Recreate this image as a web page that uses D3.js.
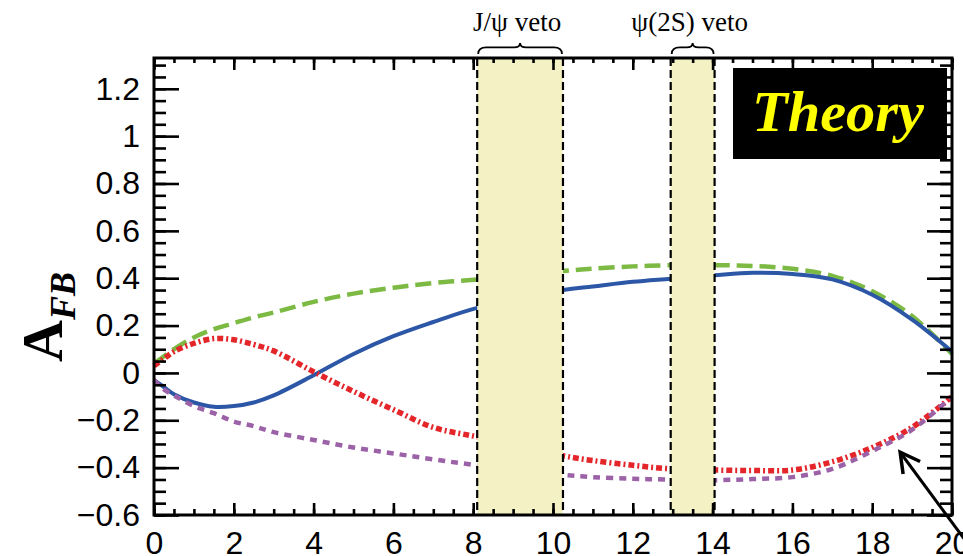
<!DOCTYPE html>
<html>
<head>
<meta charset="utf-8">
<script src="https://cdn.jsdelivr.net/npm/d3@7"></script>
<style>
  body { margin: 0; background: #fff; }
</style>
</head>
<body>
<svg id="chart" width="963" height="556"></svg>
<script>
// q^2 sample points (GeV^2)
var q2 = [0, 0.25, 0.5, 1, 1.5, 2, 2.5, 3, 4, 5, 6, 7, 8.1, 10.25, 11, 12, 12.95, 14.05, 15, 16, 17, 18, 19, 20];

// A_FB predictions
var afbBlue   = [-0.03, -0.06, -0.09, -0.125, -0.143, -0.14, -0.125, -0.095, -0.01, 0.08, 0.155, 0.215, 0.275, 0.35, 0.365, 0.385, 0.398, 0.413, 0.423, 0.418, 0.395, 0.33, 0.225, 0.09];
var afbGreen  = [0.04, 0.07, 0.10, 0.15, 0.185, 0.21, 0.235, 0.255, 0.30, 0.335, 0.36, 0.38, 0.395, 0.43, 0.44, 0.45, 0.455, 0.455, 0.452, 0.44, 0.41, 0.345, 0.24, 0.08];
var afbRed    = [0.03, 0.06, 0.09, 0.125, 0.145, 0.14, 0.12, 0.093, 0.005, -0.078, -0.155, -0.23, -0.27, -0.35, -0.37, -0.39, -0.405, -0.41, -0.412, -0.41, -0.375, -0.315, -0.23, -0.10];
var afbPurple = [-0.03, -0.07, -0.095, -0.14, -0.17, -0.205, -0.225, -0.25, -0.283, -0.315, -0.34, -0.365, -0.39, -0.43, -0.44, -0.447, -0.45, -0.453, -0.448, -0.44, -0.405, -0.33, -0.24, -0.10];

// charmonium veto windows
var vetoNames = ["J/\u03c8 veto", "\u03c8(2S) veto"];
var vetoLo = [8.1, 12.95];
var vetoHi = [10.25, 14.05];

var xTicks = d3.range(0, 21, 2);
var yTicks = [-0.6, -0.4, -0.2, 0, 0.2, 0.4, 0.6, 0.8, 1, 1.2];

var svg = d3.select("#chart");
var x = d3.scaleLinear().domain([0, 20]).range([154, 952]);
var y = d3.scaleLinear().domain([-0.6, 1.33]).range([515, 58]);

var series = [
  { v: afbGreen,  color: "#7cba44", width: 4.5, dash: "16,7" },
  { v: afbBlue,   color: "#2c56a6", width: 4,   dash: null },
  { v: afbRed,    color: "#e4262b", width: 5.5, dash: "6,3,2,3" },
  { v: afbPurple, color: "#9c62a8", width: 4.5, dash: "7,6" }
];

var line = d3.line()
  .x(function(d) { return x(d[0]); })
  .y(function(d) { return y(d[1]); })
  .curve(d3.curveCatmullRom.alpha(0.5));

svg.append("g").selectAll("path")
  .data(series)
  .join("path")
  .attr("d", function(s) { return line(q2.map(function(q, i) { return [q, s.v[i]]; })); })
  .attr("fill", "none")
  .attr("stroke", function(s) { return s.color; })
  .attr("stroke-width", function(s) { return s.width; })
  .attr("stroke-dasharray", function(s) { return s.dash; });

// veto bands hide the curves inside them
var bands = svg.append("g");
vetoLo.forEach(function(lo, i) {
  var hi = vetoHi[i];
  bands.append("rect")
    .attr("x", x(lo)).attr("y", y(1.33))
    .attr("width", x(hi) - x(lo)).attr("height", y(-0.6) - y(1.33))
    .attr("fill", "#f4f2c4");
  [lo, hi].forEach(function(e) {
    bands.append("line")
      .attr("x1", x(e)).attr("x2", x(e))
      .attr("y1", y(1.33)).attr("y2", y(-0.6))
      .attr("stroke", "#000").attr("stroke-width", 2.2)
      .attr("stroke-dasharray", "8,4");
  });
});

// axes with inward ticks
function yLabel(d) {
  return String(+d.toFixed(1)).replace("-", "\u2212");
}
var tickFont = "'Liberation Sans', Arial, sans-serif";

function addAxis(axis, tx, ty) {
  var g = svg.append("g").attr("transform", "translate(" + tx + "," + ty + ")").call(axis);
  g.select(".domain").remove();
  g.selectAll("line").attr("stroke", "#000").attr("stroke-width", 2.6);
  g.attr("font-family", tickFont).attr("font-size", 32);
  g.selectAll("text").attr("fill", "#000");
  return g;
}

var xMinor = d3.range(0, 20.01, 0.5);
var yMinor = d3.range(-0.6, 1.33, 0.05);

addAxis(d3.axisBottom(x).tickValues(xMinor).tickSize(-6).tickFormat(""), 0, 515);
addAxis(d3.axisBottom(x).tickValues(xTicks).tickSize(-12).tickPadding(16), 0, 515);
addAxis(d3.axisTop(x).tickValues(xMinor).tickSize(-5).tickFormat(""), 0, 58);
addAxis(d3.axisTop(x).tickValues(xTicks).tickSize(-12).tickFormat(""), 0, 58);
addAxis(d3.axisLeft(y).tickValues(yMinor).tickSize(-12).tickFormat(""), 154, 0);
addAxis(d3.axisLeft(y).tickValues(yTicks).tickSize(-25).tickPadding(14).tickFormat(yLabel), 154, 0);
addAxis(d3.axisRight(y).tickValues(yMinor).tickSize(-12).tickFormat(""), 952, 0);
addAxis(d3.axisRight(y).tickValues(yTicks).tickSize(-25).tickFormat(""), 952, 0);

// plot frame
svg.append("rect")
  .attr("x", x(0)).attr("y", y(1.33))
  .attr("width", x(20) - x(0)).attr("height", y(-0.6) - y(1.33))
  .attr("fill", "none").attr("stroke", "#000").attr("stroke-width", 3);

// veto labels with over-braces
function brace(x0, x1, yb) {
  var xm = (x0 + x1) / 2, h = 11;
  return "M" + x0 + "," + yb +
    " Q" + x0 + "," + (yb - h * 0.6) + " " + (x0 + 8) + "," + (yb - h * 0.6) +
    " L" + (xm - 6) + "," + (yb - h * 0.6) +
    " Q" + xm + "," + (yb - h * 0.6) + " " + xm + "," + (yb - h) +
    " Q" + xm + "," + (yb - h * 0.6) + " " + (xm + 6) + "," + (yb - h * 0.6) +
    " L" + (x1 - 8) + "," + (yb - h * 0.6) +
    " Q" + x1 + "," + (yb - h * 0.6) + " " + x1 + "," + yb;
}
vetoNames.forEach(function(name, i) {
  var x0 = x(vetoLo[i]), x1 = x(vetoHi[i]);
  svg.append("path")
    .attr("d", brace(x0 + 1, x1 - 1, 54))
    .attr("fill", "none").attr("stroke", "#000").attr("stroke-width", 1.8);
  svg.append("text")
    .attr("x", (x0 + x1) / 2 - 3).attr("y", 31)
    .attr("text-anchor", "middle")
    .attr("font-family", "'Liberation Serif', 'Times New Roman', serif")
    .attr("font-size", 27)
    .text(name);
});

// y-axis title
var title = svg.append("text")
  .attr("transform", "translate(62,362) rotate(-90)")
  .attr("font-family", "'Liberation Serif', 'Times New Roman', serif")
  .attr("font-weight", "bold");
title.append("tspan").attr("font-size", 58).text("A");
title.append("tspan").attr("font-size", 36).attr("font-style", "italic").attr("dy", 13).text("FB");

// "Theory" tag
svg.append("rect")
  .attr("x", 733).attr("y", 68).attr("width", 214).attr("height", 91)
  .attr("fill", "#000");
svg.append("text")
  .attr("x", 752).attr("y", 131)
  .attr("font-family", "'Liberation Serif', 'Times New Roman', serif")
  .attr("font-weight", "bold").attr("font-style", "italic")
  .attr("font-size", 56)
  .attr("fill", "#ffff00")
  .attr("textLength", 172).attr("lengthAdjust", "spacingAndGlyphs")
  .text("Theory");

// arrow pointing at the merging curves
var tip = [x(18.7), y(-0.335)], tail = [x(20.3), y(-0.7)];
var ang = Math.atan2(tail[1] - tip[1], tail[0] - tip[0]);
var armLen = 22, spread = 0.5;
svg.append("line")
  .attr("x1", tip[0]).attr("y1", tip[1]).attr("x2", tail[0]).attr("y2", tail[1])
  .attr("stroke", "#000").attr("stroke-width", 3);
svg.append("path")
  .attr("d", "M" + (tip[0] + armLen * Math.cos(ang - spread)) + "," + (tip[1] + armLen * Math.sin(ang - spread)) +
    " L" + tip[0] + "," + tip[1] +
    " L" + (tip[0] + armLen * Math.cos(ang + spread)) + "," + (tip[1] + armLen * Math.sin(ang + spread)))
  .attr("fill", "none").attr("stroke", "#000").attr("stroke-width", 3.5);
</script>
</body>
</html>
